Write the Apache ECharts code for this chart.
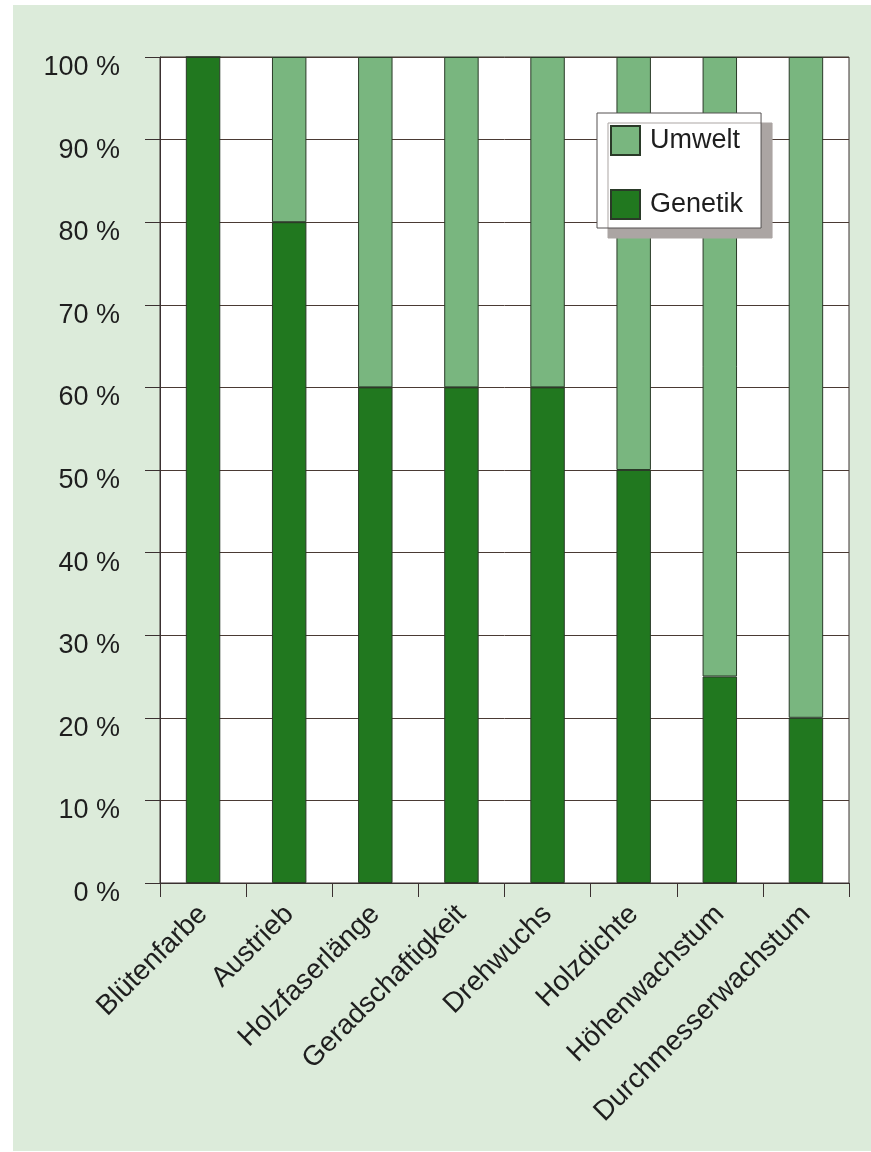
<!DOCTYPE html>
<html>
<head>
<meta charset="utf-8">
<script src="https://cdn.jsdelivr.net/npm/echarts@6/dist/echarts.min.js"></script>
<style>
  html, body { margin: 0; padding: 0; background: #ffffff; }
  #panel { position: absolute; left: 13px; top: 5px; width: 858px; height: 1146px; background: #dcebda; }
  #chart { position: absolute; left: 0; top: 0; width: 871px; height: 1152px; }
</style>
</head>
<body>
<div id="panel"></div>
<div id="chart"></div>
<script>
// Merkmale und Anteil von Genetik / Umwelt (in %)
const categories = ['Blütenfarbe', 'Austrieb', 'Holzfaserlänge', 'Geradschaftigkeit', 'Drehwuchs', 'Holzdichte', 'Höhenwachstum', 'Durchmesserwachstum'];
const genetik = [100, 80, 60, 60, 60, 50, 25, 20];
const umwelt = [0, 20, 40, 40, 40, 50, 75, 80];
const yTicks = [0, 10, 20, 30, 40, 50, 60, 70, 80, 90, 100];

const FONT = '"Liberation Sans", Arial, sans-serif';
const INK = '#1e1e1e';
const LINE = '#3a3030';

const chart = echarts.init(document.getElementById('chart'), null, { renderer: 'canvas' });

chart.setOption({
  animation: false,
  backgroundColor: 'transparent',
  textStyle: { fontFamily: FONT, color: INK },
  grid: {
    left: 160, top: 57, right: 22, bottom: 269,
    show: true, backgroundColor: '#ffffff', borderColor: LINE, borderWidth: 1
  },
  legend: {
    orient: 'vertical',
    left: 597, top: 113,
    data: ['Umwelt', 'Genetik'],
    itemWidth: 29, itemHeight: 29, itemGap: 33,
    icon: 'rect',
    padding: [12, 18, 8, 13],
    backgroundColor: '#ffffff',
    borderColor: '#555050', borderWidth: 1,
    shadowColor: '#aba5a3', shadowBlur: 0, shadowOffsetX: 11, shadowOffsetY: 10,
    textStyle: { fontFamily: FONT, fontSize: 27, color: INK, padding: [0, 0, 0, 5] }
  },
  xAxis: {
    type: 'category',
    data: categories,
    boundaryGap: true,
    axisLine: { show: true, lineStyle: { color: LINE, width: 1 } },
    axisTick: { show: true, inside: false, length: 14, lineStyle: { color: LINE } },
    splitLine: { show: false },
    axisLabel: {
      rotate: 45, margin: 27, fontFamily: FONT, fontSize: 28, color: INK, interval: 0
    }
  },
  yAxis: {
    type: 'value',
    min: 0, max: 100, interval: 10,
    axisLine: { show: true, lineStyle: { color: LINE, width: 1 } },
    axisTick: { show: true, length: 15, lineStyle: { color: LINE } },
    splitLine: { show: true, lineStyle: { color: '#4a3a34', width: 1 } },
    axisLabel: {
      margin: 40, fontFamily: FONT, fontSize: 27, color: INK,
      verticalAlign: 'top', lineHeight: 21,
      customValues: yTicks,
      formatter: v => v + ' %'
    }
  },
  series: [
    {
      name: 'Genetik', type: 'bar', stack: 'anteil',
      data: genetik, barWidth: '40%',
      itemStyle: { color: '#21781f', borderColor: '#2a3a28', borderWidth: 1 }
    },
    {
      name: 'Umwelt', type: 'bar', stack: 'anteil',
      data: umwelt, barWidth: '40%',
      itemStyle: { color: '#79b67f', borderColor: '#2a3a28', borderWidth: 1 }
    }
  ]
});
</script>
</body>
</html>
